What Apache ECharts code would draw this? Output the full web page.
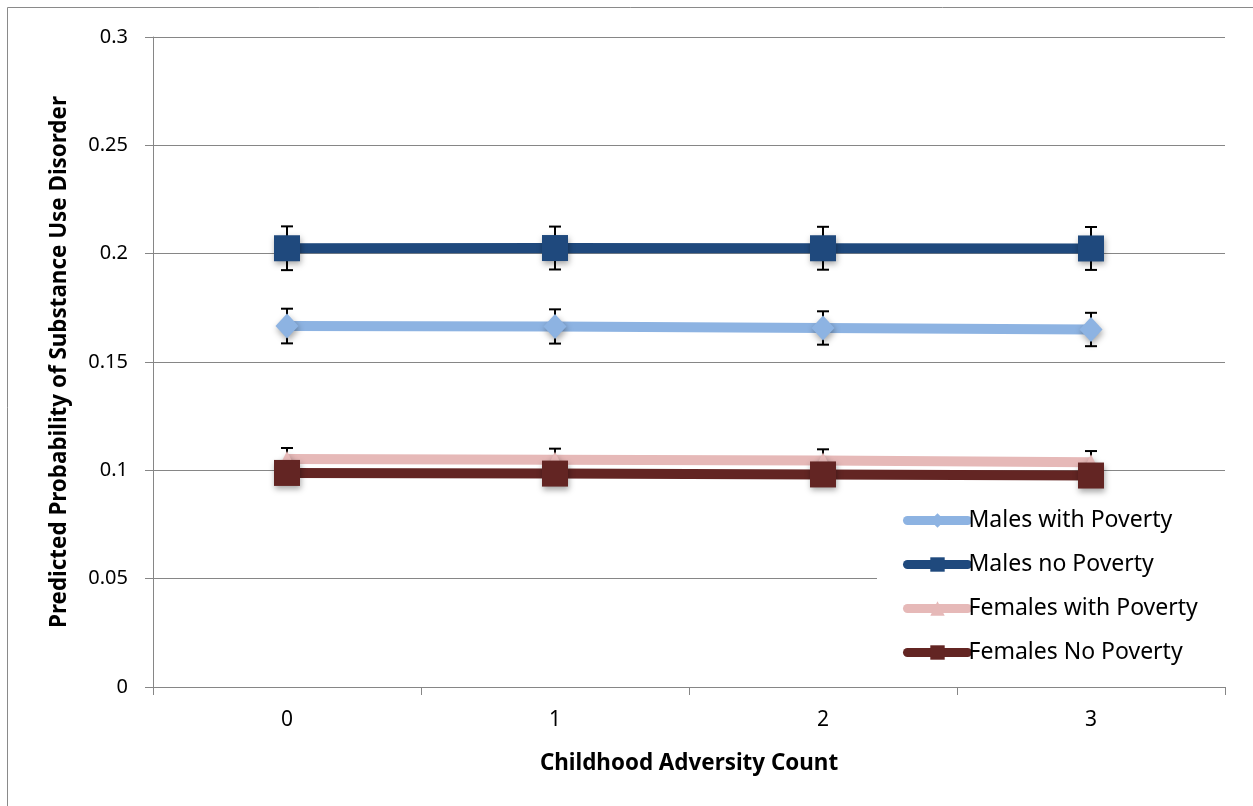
<!DOCTYPE html>
<html>
<head>
<meta charset="utf-8">
<script src="https://cdn.jsdelivr.net/npm/echarts@6/dist/echarts.min.js"></script>
<style>
html,body{margin:0;padding:0;background:#fff;}
#chart{width:1253px;height:806px;}
</style>
</head>
<body>
<div id="chart"></div>
<script>
const categories = ['0', '1', '2', '3'];
const seriesNames = ['Males with Poverty', 'Males no Poverty', 'Females with Poverty', 'Females No Poverty'];
const malesPoverty = [0.1666, 0.1664, 0.1657, 0.1650];
const malesNoPoverty = [0.2025, 0.2026, 0.2025, 0.2024];
const femalesPoverty = [0.1052, 0.1049, 0.1045, 0.1037];
const femalesNoPoverty = [0.0988, 0.0985, 0.0981, 0.0976];
const malesPovertyErr = [0.0080, 0.0079, 0.0077, 0.0077];
const malesNoPovertyErr = [0.0101, 0.0099, 0.0099, 0.0099];
const femalesPovertyErr = [0.0051, 0.0051, 0.0052, 0.0052];
const femalesNoPovertyErr = [0.0047, 0.0047, 0.0047, 0.0047];
const yTicks = [0, 0.05, 0.1, 0.15, 0.2, 0.25, 0.3];

const FONT = 'Noto Sans';
const colors = ['#8DB3E2', '#1F497D', '#E6B9B8', '#632523'];
const symbols = ['diamond', 'rect', 'triangle', 'rect'];
const symbolSizes = [[23, 25], 26, 16, 26];
const values = [malesPoverty, malesNoPoverty, femalesPoverty, femalesNoPoverty];
const errs = [malesPovertyErr, malesNoPovertyErr, femalesPovertyErr, femalesNoPovertyErr];

function errSeries(vals, err) {
  return {
    type: 'custom',
    z: 1,
    silent: true,
    data: vals.map((v, i) => [i, v - err[i], v + err[i]]),
    encode: { x: 0, y: [1, 2] },
    renderItem: function (params, api) {
      const lo = api.coord([api.value(0), api.value(1)]);
      const hi = api.coord([api.value(0), api.value(2)]);
      const w = 6;
      const st = { stroke: '#000', lineWidth: 2 };
      return {
        type: 'group',
        children: [
          { type: 'line', shape: { x1: lo[0], y1: lo[1], x2: hi[0], y2: hi[1] }, style: st },
          { type: 'line', shape: { x1: lo[0] - w, y1: lo[1], x2: lo[0] + w, y2: lo[1] }, style: st },
          { type: 'line', shape: { x1: hi[0] - w, y1: hi[1], x2: hi[0] + w, y2: hi[1] }, style: st }
        ]
      };
    }
  };
}

const series = [];
values.forEach((v, k) => series.push(errSeries(v, errs[k])));
values.forEach((v, k) => {
  series.push({
    name: seriesNames[k],
    type: 'line',
    z: 3 + k,
    data: v,
    symbol: symbols[k],
    symbolSize: symbolSizes[k],
    showAllSymbol: true,
    lineStyle: { color: colors[k], width: 10 },
    itemStyle: { color: colors[k], shadowColor: 'rgba(0,0,0,0.35)', shadowBlur: 6, shadowOffsetY: 3, shadowOffsetX: 1 },
    emphasis: { disabled: true },
    animation: false
  });
});

const chart = echarts.init(document.getElementById('chart'), null, { renderer: 'canvas' });
chart.setOption({
  animation: false,
  backgroundColor: '#fff',
  textStyle: { fontFamily: FONT },
  graphic: [{
    type: 'rect',
    z: 100,
    silent: true,
    shape: { x: 7.5, y: 7.5, width: 1400, height: 1000 },
    style: { fill: null, stroke: '#8a8a8a', lineWidth: 1 }
  }],
  grid: { left: 153, right: 28, top: 37, bottom: 119, containLabel: false },
  legend: {
    orient: 'vertical',
    left: 877,
    top: 499,
    padding: [10, 34, 10, 26],
    backgroundColor: '#fff',
    itemWidth: 60,
    itemHeight: 18,
    itemGap: 21,
    data: seriesNames,
    lineStyle: { width: 9, cap: 'round' },
    itemStyle: { shadowBlur: 0, shadowOffsetX: 0, shadowOffsetY: 0 },
    textStyle: { fontFamily: FONT, fontSize: 23, color: '#000', padding: [0, 0, 0, -4] },
    z: 10
  },
  xAxis: {
    type: 'category',
    data: categories,
    boundaryGap: true,
    name: 'Childhood Adversity Count',
    nameLocation: 'middle',
    nameGap: 66,
    nameTextStyle: { fontFamily: FONT, fontSize: 22.4, fontWeight: 'bold', color: '#000' },
    axisLine: { lineStyle: { color: '#868686', width: 1 } },
    axisTick: { show: true, length: 8, lineStyle: { color: '#868686' } },
    axisLabel: { fontFamily: FONT, fontSize: 21, color: '#000', margin: 23 },
    splitLine: { show: false }
  },
  yAxis: {
    type: 'value',
    min: 0,
    max: 0.3,
    interval: 0.05,
    name: 'Predicted Probability of Substance Use Disorder',
    nameLocation: 'middle',
    nameGap: 82,
    nameTextStyle: { fontFamily: FONT, fontSize: 22.4, fontWeight: 'bold', color: '#000' },
    axisLine: { show: true, lineStyle: { color: '#868686', width: 1 } },
    axisTick: { show: true, length: 8, lineStyle: { color: '#868686' } },
    axisLabel: {
      fontFamily: FONT, fontSize: 20, color: '#000', margin: 25,
      formatter: function (v) {
        const t = yTicks.find(x => Math.abs(x - v) < 1e-9);
        return String(t !== undefined ? t : v);
      }
    },
    splitLine: { show: true, lineStyle: { color: '#868686', width: 1 } }
  },
  series: series
});
</script>
</body>
</html>
